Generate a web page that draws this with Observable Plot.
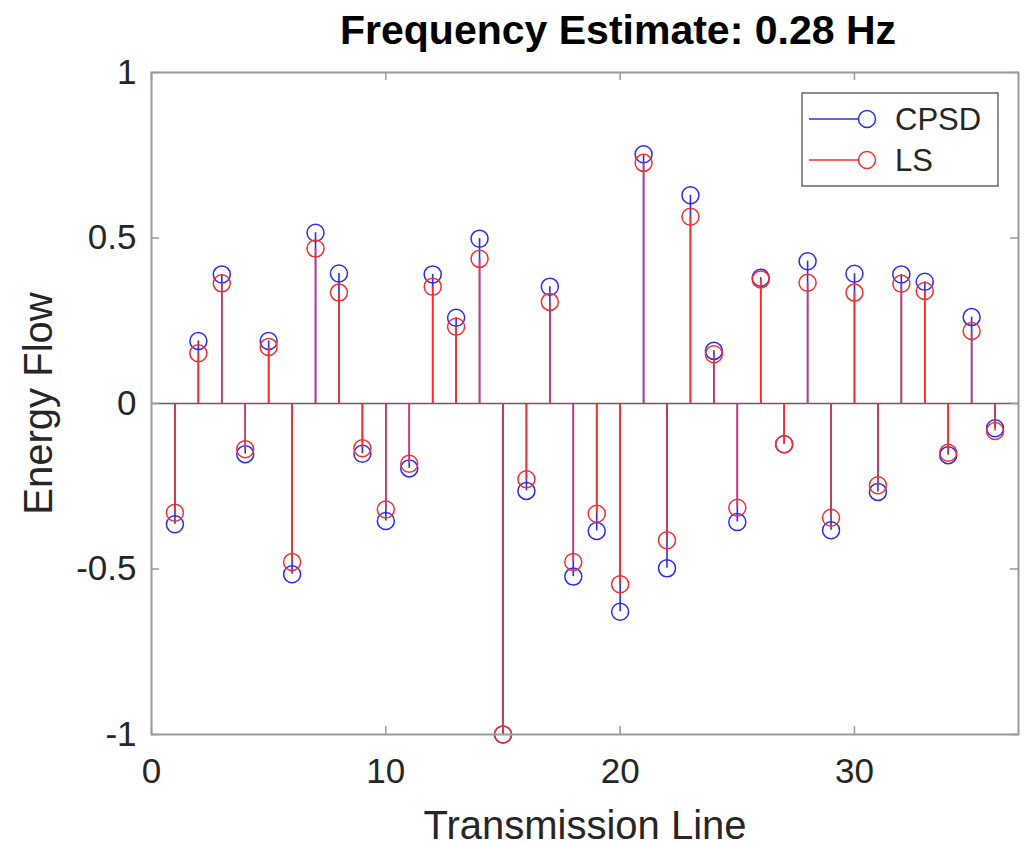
<!DOCTYPE html>
<html>
<head>
<meta charset="utf-8">
<script src="https://cdn.jsdelivr.net/npm/d3@7"></script>
<script src="https://cdn.jsdelivr.net/npm/@observablehq/plot@0.6"></script>
<style>
  html, body { margin: 0; padding: 0; background: #fff; }
  #wrap { position: relative; width: 1025px; height: 845px; overflow: hidden; }
  #title { position: relative; height: 60px; }
  #title span { position: absolute; left: 618px; top: 0; transform: translateX(-50%);
    font-family: "Liberation Sans", Arial, sans-serif; font-weight: bold; font-size: 41px;
    line-height: 60px; white-space: nowrap; color: #000; }
  #legend { position: absolute; left: 801px; top: 92px; }
</style>
</head>
<body>
<div id="wrap">
  <div id="title"><span>Frequency Estimate: 0.28 Hz</span></div>
  <div id="chart"></div>
  <div id="legend"></div>
</div>
<script>
// Transmission line indices
const lines = [1,2,3,4,5,6,7,8,9,10,11,12,13,14,15,16,17,18,19,20,21,22,23,24,25,26,27,28,29,30,31,32,33,34,35,36];
// Energy flow estimates
const cpsd = [-0.365, 0.189, 0.390, -0.153, 0.189, -0.516, 0.516, 0.393, -0.152, -0.355, -0.196, 0.390,
              0.259, 0.498, -1.0, -0.264, 0.353, -0.523, -0.385, -0.629, 0.753, -0.498, 0.629, 0.159,
              -0.358, 0.380, -0.123, 0.430, -0.383, 0.392, -0.267, 0.390, 0.368, -0.156, 0.261, -0.075];
const ls   = [-0.330, 0.152, 0.363, -0.138, 0.171, -0.479, 0.468, 0.335, -0.135, -0.320, -0.182, 0.353,
              0.232, 0.437, -1.0, -0.229, 0.307, -0.479, -0.333, -0.546, 0.727, -0.413, 0.564, 0.149,
              -0.315, 0.375, -0.123, 0.365, -0.345, 0.335, -0.247, 0.362, 0.340, -0.149, 0.219, -0.083];
const xTicks = [0, 10, 20, 30];
const yTicks = [-1, -0.5, 0, 0.5, 1];
const seriesNames = ["CPSD", "LS"];
const xLabel = "Transmission Line";
const yLabel = "Energy Flow";

const BLUE = "#2b2bf5", RED = "#f23030", AXIS = "#9a9a9a", TEXT = "#262626";
const cpsdData = lines.map((l, i) => ({line: l, value: cpsd[i]}));
const lsData = lines.map((l, i) => ({line: l, value: ls[i]}));

const W = 1025, H = 785, mT = 12, mB = 111, mL = 151, mR = 7;
const innerH = H - mT - mB, innerW = W - mL - mR, tick = 8;

const chart = Plot.plot({
  width: W, height: H,
  marginTop: mT, marginBottom: mB, marginLeft: mL, marginRight: mR,
  x: {domain: [0, 37]},
  y: {domain: [-1, 1]},
  style: {fontFamily: "'Liberation Sans', Arial, sans-serif", color: TEXT, background: "white", overflow: "visible"},
  marks: [
    Plot.ruleY([0], {stroke: "#7a5563", strokeWidth: 1.6}),
    Plot.ruleX(cpsdData, {x: "line", y1: 0, y2: "value", stroke: BLUE, strokeWidth: 1.6}),
    Plot.dot(cpsdData, {x: "line", y: "value", r: 8.5, stroke: BLUE, fill: "none", strokeWidth: 1.5}),
    Plot.ruleX(lsData, {x: "line", y1: 0, y2: "value", stroke: RED, strokeWidth: 1.6}),
    Plot.dot(lsData, {x: "line", y: "value", r: 8.5, stroke: RED, fill: "none", strokeWidth: 1.5}),
    Plot.frame({stroke: AXIS, strokeWidth: 2}),
    Plot.ruleX(xTicks, {x: d => d, insetTop: innerH - tick, stroke: AXIS, strokeWidth: 1.5}),
    Plot.ruleX(xTicks, {x: d => d, insetBottom: innerH - tick, stroke: AXIS, strokeWidth: 1.5}),
    Plot.ruleY(yTicks, {y: d => d, insetRight: innerW - tick, stroke: AXIS, strokeWidth: 1.5}),
    Plot.ruleY(yTicks, {y: d => d, insetLeft: innerW - tick, stroke: AXIS, strokeWidth: 1.5}),
    Plot.axisX({ticks: xTicks, tickSize: 0, tickPadding: 24, fontSize: 35, tickFormat: d => String(d), label: null}),
    Plot.axisY({ticks: yTicks, tickSize: 0, tickPadding: 15, fontSize: 35, tickFormat: d => String(d), label: null}),
    Plot.text([xLabel], {text: d => d, frameAnchor: "bottom", dy: 104, lineAnchor: "bottom", fontSize: 40, fill: TEXT}),
    Plot.text([yLabel], {text: d => d, frameAnchor: "left", textAnchor: "middle", rotate: -90, dx: -100, lineAnchor: "bottom", fontSize: 40, fill: TEXT})
  ]
});
document.getElementById("chart").appendChild(chart);

// Legend
const lg = d3.select("#legend").append("svg").attr("width", 199).attr("height", 96);
lg.append("rect").attr("x", 1).attr("y", 1).attr("width", 196).attr("height", 93)
  .attr("fill", "white").attr("stroke", "#6a6a6a").attr("stroke-width", 1.5);
const legendColors = [BLUE, RED];
seriesNames.forEach((name, i) => {
  const y = 27 + i * 41;
  lg.append("line").attr("x1", 8).attr("x2", 66).attr("y1", y).attr("y2", y)
    .attr("stroke", legendColors[i]).attr("stroke-width", 1.5);
  lg.append("circle").attr("cx", 66).attr("cy", y).attr("r", 8.5)
    .attr("fill", "white").attr("stroke", legendColors[i]).attr("stroke-width", 1.5);
  lg.append("text").attr("x", 94).attr("y", y + 11).text(name)
    .attr("font-family", "'Liberation Sans', Arial, sans-serif").attr("font-size", 31).attr("fill", TEXT);
});
</script>
</body>
</html>
